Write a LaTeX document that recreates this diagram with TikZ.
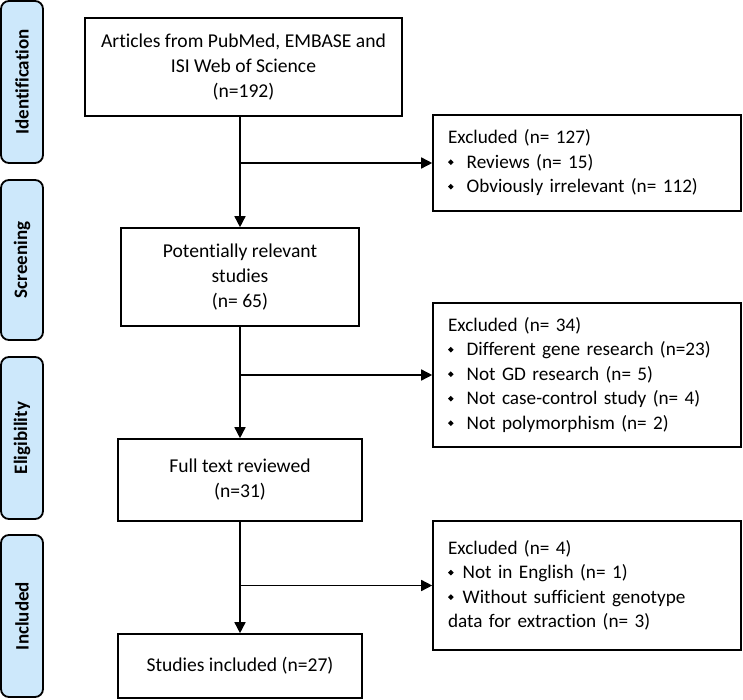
\documentclass[tikz,border=0pt]{standalone}
\usepackage{fontspec}
\setmainfont{Carlito}[Ligatures=NoCommon]
\usetikzlibrary{positioning, arrows.meta, calc}
\definecolor{phaseblue}{RGB}{205,232,251}
\newcommand{\dmd}{\raisebox{0.18em}{\rotatebox{45}{\rule{4pt}{4pt}}}}

\begin{document}
\begin{tikzpicture}[
    x=1pt, y=-1pt,
    mainbox/.style={rectangle, draw, line width=1.6pt, align=center, font=\fontsize{19.6}{25}\selectfont},
    exbox/.style={rectangle, draw, line width=1.6pt, align=left, text width=278pt, inner xsep=15pt, font=\fontsize{19.2}{24.5}\selectfont},
    phase/.style={rectangle, rounded corners=8pt, draw, line width=1.8pt, fill=phaseblue, minimum width=162pt, minimum height=42pt, rotate=90, font=\fontsize{19}{22}\bfseries\selectfont},
    arrow/.style={-{Triangle[length=11pt,width=11pt]}, line width=1.5pt}
]
\useasboundingbox (0,0) rectangle (743,700);

% Phase labels
\node[phase] (ident) at (22,82) {Identification};
\node[phase, minimum width=160pt] (screen) at (22,260) {Screening};
\node[phase] (elig) at (22,438) {Eligibility};
\node[phase] (incl) at (22,616) {Included};

% Main flow
\node[mainbox, minimum width=317pt, minimum height=98pt] (articles) at (243.5,67) {Articles from PubMed, EMBASE and\\ISI Web of Science\\(n=192)};
\node[mainbox, minimum width=238pt, minimum height=98pt] (relevant) at (240,277) {Potentially relevant\\studies\\(n= 65)};
\node[mainbox, minimum width=244pt, minimum height=82pt] (fulltext) at (240,480) {Full text reviewed\\(n=31)};
\node[mainbox, minimum width=244pt, minimum height=64pt] (included) at (240,666) {Studies included (n=27)};

% Exclusions
\node[exbox, minimum height=96pt] (excl1) at (587,163) {Excluded (n= 127)\\\dmd\hspace{13pt}Reviews (n= 15)\\\dmd\hspace{13pt}Obviously irrelevant (n= 112)};
\node[exbox, minimum height=144pt] (excl2) at (587,375) {Excluded (n= 34)\\\dmd\hspace{13pt}Different gene research (n=23)\\\dmd\hspace{13pt}Not GD research (n= 5)\\\dmd\hspace{13pt}Not case-control study (n= 4)\\\dmd\hspace{13pt}Not polymorphism (n= 2)};
\node[exbox, minimum height=129pt] (excl3) at (587,585.5) {Excluded (n= 4)\\\dmd\hspace{9pt}Not in English (n= 1)\\\dmd\hspace{9pt}Without sufficient genotype\\data for extraction (n= 3)};

% Arrows
\draw[arrow] (articles.south -| relevant.north) -- (relevant.north);
\draw[arrow] (relevant) -- (fulltext);
\draw[arrow] (fulltext) -- (included);
\draw[arrow] (excl1.west -| relevant.north) -- (excl1.west);
\draw[arrow] (excl2.west -| relevant.south) -- (excl2.west);
\draw[arrow] (excl3.west -| included.north) -- (excl3.west);

\end{tikzpicture}
\end{document}
